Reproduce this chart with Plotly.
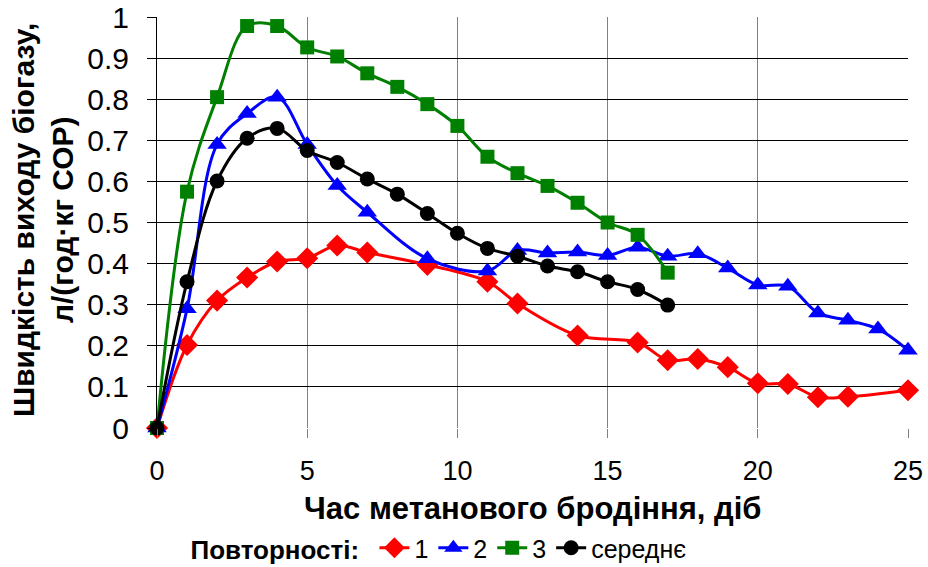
import plotly.graph_objects as go

days_1 = [0, 1, 2, 3, 4, 5, 6, 7, 9, 11, 12, 14, 16, 17, 18, 19, 20, 21, 22, 23, 25]
rate_1 = [0, 0.202, 0.31, 0.366, 0.405, 0.413, 0.444, 0.427, 0.397, 0.356, 0.303, 0.225, 0.208,
          0.165, 0.168, 0.148, 0.109, 0.107, 0.075, 0.076, 0.092]

days_2 = [0, 1, 2, 3, 4, 5, 6, 7, 9, 11, 12, 13, 14, 15, 16, 17, 18, 19, 20, 21, 22, 23, 24, 25]
rate_2 = [0, 0.29, 0.69, 0.765, 0.805, 0.69, 0.59, 0.525, 0.412, 0.382, 0.432, 0.426, 0.428,
          0.42, 0.44, 0.418, 0.424, 0.389, 0.348, 0.345, 0.28, 0.262, 0.241, 0.189]

days_3 = [0, 1, 2, 3, 4, 5, 6, 7, 8, 9, 10, 11, 12, 13, 14, 15, 16, 17]
rate_3 = [0, 0.575, 0.805, 0.978, 0.978, 0.926, 0.904, 0.863, 0.83, 0.788, 0.735, 0.66, 0.62,
          0.589, 0.548, 0.5, 0.47, 0.378]

days_avg = [0, 1, 2, 3, 4, 5, 6, 7, 8, 9, 10, 11, 12, 13, 14, 15, 16, 17]
rate_avg = [0, 0.356, 0.601, 0.705, 0.729, 0.675, 0.646, 0.606, 0.569, 0.522, 0.474, 0.437,
            0.418, 0.394, 0.38, 0.356, 0.337, 0.299]

series_names = ["1", "2", "3", "середнє"]
x_ticks = [0, 5, 10, 15, 20, 25]
y_ticks = [0, 0.1, 0.2, 0.3, 0.4, 0.5, 0.6, 0.7, 0.8, 0.9, 1]
y_tick_text = ["0", "0.1", "0.2", "0.3", "0.4", "0.5", "0.6", "0.7", "0.8", "0.9", "1"]

FONT = "Liberation Sans, Arial, sans-serif"

fig = go.Figure()
styles = [
    (days_1, rate_1, "#FF0000", "diamond", 17),
    (days_2, rate_2, "#0000FF", "triangle-up", 17),
    (days_3, rate_3, "#008000", "square", 14),
    (days_avg, rate_avg, "#000000", "circle", 15),
]
for (xs, ys, col, sym, sz), name in zip(styles, series_names):
    fig.add_trace(go.Scatter(
        x=xs, y=ys, name=name, mode="lines+markers",
        line=dict(color=col, width=3, shape="spline", smoothing=1.0),
        marker=dict(color=col, symbol=sym, size=sz),
        cliponaxis=False,
    ))

fig.update_layout(
    width=928, height=567,
    margin=dict(l=157, r=20, t=17, b=139, autoexpand=False),
    paper_bgcolor="white", plot_bgcolor="white",
    font=dict(family=FONT, size=26, color="black"),
    showlegend=True,
    legend=dict(
        orientation="h", xref="paper", yref="paper",
        x=(440 - 157) / 751, xanchor="center", y=(428 - 548) / 411, yanchor="middle",
        title=dict(text="<b>Повторності:</b> ", font=dict(family=FONT, size=26)),
        font=dict(family=FONT, size=25), itemwidth=30,
        bgcolor="rgba(0,0,0,0)", tracegroupgap=0,
    ),
    xaxis=dict(
        range=[0, 25], tickvals=x_ticks, ticks="outside", ticklen=9,
        tickcolor="#808080", showgrid=True, gridcolor="#808080", gridwidth=1,
        zeroline=False, showline=False, tickfont=dict(size=27),
        ticklabelstandoff=10, automargin=False,
    ),
    yaxis=dict(
        range=[0, 1], tickvals=y_ticks, ticktext=y_tick_text, ticks="outside", ticklen=9,
        tickcolor="black", showgrid=True, gridcolor="black", gridwidth=1,
        zeroline=False, showline=True, linecolor="black", linewidth=1,
        tickfont=dict(size=30), ticklabelstandoff=12, automargin=False,
    ),
    annotations=[
        dict(text="<b>Швидкість виходу біогазу,<br>л/(год·кг СОР)</b>", xref="paper", yref="paper",
             x=(43 - 157) / 751, y=(428 - 220) / 411, textangle=-90, showarrow=False,
             xanchor="center", yanchor="middle", font=dict(family=FONT, size=30)),
        dict(text="<b>Час метанового бродіння, діб</b>", xref="paper", yref="paper",
             x=(532 - 157) / 751, y=(428 - 508) / 411, showarrow=False,
             xanchor="center", yanchor="middle", font=dict(family=FONT, size=31)),
    ],
)

fig.write_html("out.html", config={"displayModeBar": False},
               post_script="document.body.style.margin='0';")
